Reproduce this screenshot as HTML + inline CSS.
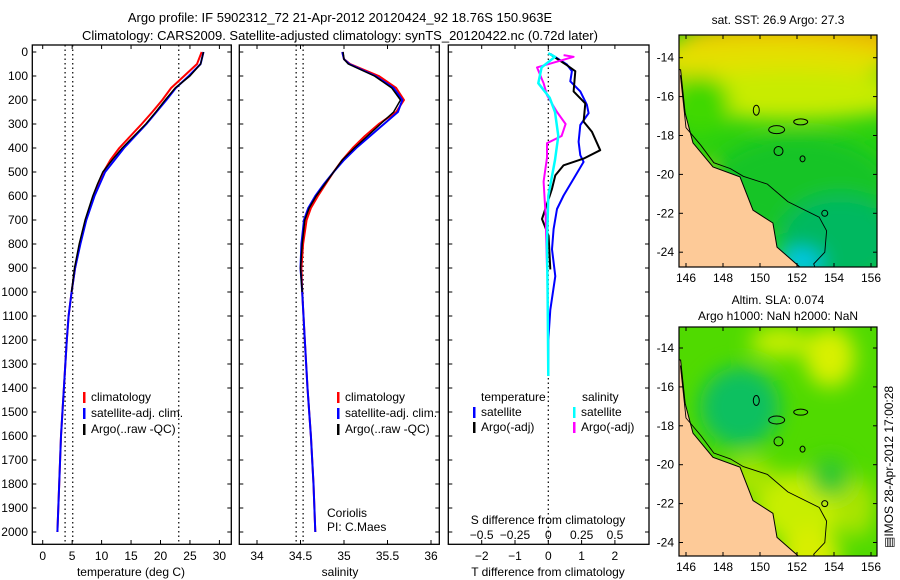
<!DOCTYPE html>
<html><head><meta charset="utf-8"><style>
html,body{margin:0;padding:0;background:#fff;}
svg{display:block;font-family:"Liberation Sans",sans-serif;}
</style></head><body>
<svg id="fig" width="900" height="580" viewBox="0 0 900 580" xmlns="http://www.w3.org/2000/svg">
<defs>
<filter id="bl" x="-50%" y="-50%" width="200%" height="200%"><feGaussianBlur stdDeviation="10"/></filter>
<clipPath id="c1"><rect x="679" y="35" width="198" height="232"/></clipPath>
<clipPath id="c2"><rect x="679" y="327" width="198" height="229"/></clipPath>
<clipPath id="cp1"><rect x="32.3" y="45" width="199" height="499.3"/></clipPath>
<clipPath id="cp2"><rect x="239.3" y="45" width="200" height="499.3"/></clipPath>
<clipPath id="cp3"><rect x="448.3" y="45" width="200.7" height="499.3"/></clipPath>
</defs>
<text x="340" y="22" font-size="13" text-anchor="middle">Argo profile: IF 5902312_72 21-Apr-2012 20120424_92 18.76S 150.963E</text>
<text x="340" y="40" font-size="13" text-anchor="middle">Climatology: CARS2009. Satellite-adjusted climatology: synTS_20120422.nc (0.72d later)</text>
<g id="axes"></g>
<g id="maps"></g>
</svg>
<script>
// ---- data ----
const depthT = [0,50,100,150,200,250,300,350,400,450,500,550,600,700,800,900,1000,1100,1200,1400,1600,1800,2000];
const tempArgo = [27.3,26.8,25.0,22.5,20.8,19.2,17.5,15.5,13.5,11.8,10.2,9.3,8.5,7.2,6.2,5.4,4.9];
const tempClim = [27.0,26.2,24.0,21.8,20.3,18.6,16.8,14.9,13.0,11.5,10.3,9.4,8.6,7.3,6.3,5.5,4.9,4.4,4.1,3.6,3.1,2.8,2.5];
const tempSat  = [27.3,26.8,24.8,22.6,21.0,19.3,17.6,15.7,13.8,12.2,10.6,9.7,8.8,7.4,6.4,5.5,4.9,4.4,4.1,3.6,3.1,2.8,2.5];
const depthS = [0,30,50,100,150,200,250,300,350,400,450,500,550,600,650,700,800,900,1000,1200,1400,1600,1800,2000];
const salArgo = [34.99,35.0,35.05,35.35,35.55,35.65,35.57,35.42,35.27,35.12,34.98,34.88,34.78,34.68,34.6,34.55,34.52,34.5,34.52];
const salClim = [34.98,35.0,35.07,35.4,35.6,35.69,35.6,35.4,35.24,35.1,34.98,34.88,34.79,34.7,34.62,34.57,34.53,34.51,34.52,34.55,34.58,34.62,34.65,34.67];
const salSat  = [34.98,35.0,35.06,35.36,35.57,35.67,35.62,35.46,35.3,35.14,35.0,34.88,34.77,34.67,34.59,34.54,34.51,34.5,34.52,34.55,34.58,34.62,34.65,34.67];
const depthDT = [8,52,80,122,164,220,255,304,374,430,458,528,598,654,738,822,934,1074,1200,1340];
const dTsat = [0.06,0.56,0.71,0.66,0.96,1.16,1.21,0.96,0.91,0.96,1.06,0.76,0.46,0.26,0.16,0.11,0.21,0.06,0.0,0.0];
const depthDTa = [10,55,80,164,214,290,332,409,444,472,514,570,696,766,906];
const dTargo = [0.06,0.56,0.81,0.76,1.11,1.06,1.31,1.56,1.06,0.46,0.21,0.11,-0.19,0.01,0.06];
const depthDS = [13,20,64,130,180,250,300,350,380,440,540,680,900];
const dSargo = [0.115,0.19,-0.085,-0.035,-0.01,0.065,0.13,0.1,-0.01,-0.01,-0.035,-0.02,-0.01];
const depthDSs = [5,20,64,130,190,250,350,450,600,800,1000,1350];
const dSsat = [0.0,0.05,-0.05,-0.075,0.01,0.05,0.075,0.05,0.0,-0.01,-0.005,0.0];
const depthTicks = [0,100,200,300,400,500,600,700,800,900,1000,1100,1200,1300,1400,1500,1600,1700,1800,1900,2000];
const tTicks = [0,5,10,15,20,25,30];
const sTicks = [34,34.5,35,35.5,36];
const dTTicks = [-2,-1,0,1,2];
const dSTicks = [-0.5,-0.25,0,0.25,0.5];
const dTLabels = ["\u22122","\u22121","0","1","2"];
const dSLabels = ["\u22120.5","\u22120.25","0","0.25","0.5"];

// ---- scales ----
const yD = d => 52 + d*0.24;
const xT = t => 42.7 + t*5.89;
const xS = s => 257 + (s-34)*87;
const xDT = v => 548.3 + v*33.3;
const xDS = v => 548.3 + v*133.3;
const NS = "http://www.w3.org/2000/svg";
const ax = document.getElementById('axes');
function mk(tag, attrs, parent){const e=document.createElementNS(NS,tag);for(const k in attrs)e.setAttribute(k,attrs[k]);(parent||ax).appendChild(e);return e;}

function panel(name,x0,x1){
  const g=mk('g',{});
  
  
  const r=mk('rect',{x:x0,y:45,width:x1-x0,height:499.3,fill:'none',stroke:'#000','stroke-width':1.3},g);
  
  
  depthTicks.forEach(d=>{
    mk('line',{x1:x0,x2:x0+4,y1:yD(d),y2:yD(d),stroke:'#000'},g);
    mk('line',{x1:x1-4,x2:x1,y1:yD(d),y2:yD(d),stroke:'#000'},g);
  });
  return g;
}
function line(g,xs,ds,fx,color,w,name,clip){
  const pts=xs.map((v,i)=>fx(v).toFixed(1)+','+yD(ds[i]).toFixed(1)).join(' ');
  const p=mk('polyline',{points:pts,fill:'none',stroke:color,'stroke-width':w,'clip-path':'url(#'+clip+')','stroke-linejoin':'round'},g);
  
  
}
function vdot(g,x){mk('line',{x1:x,x2:x,y1:45,y2:544,stroke:'#000','stroke-width':1.2,'stroke-dasharray':'1.5,3'},g);}
function txt(g,x,y,s,anchor,size){const t=mk('text',{x:x,y:y,'font-size':size||12,'text-anchor':anchor||'start'},g);t.textContent=s;return t;}
function legend(g,x,y,color,label,name){
  const b=mk('rect',{x:x,y:y-9,width:2.5,height:11,fill:color},g);
  
  
  const t=txt(g,x+8,y,label);
  
  
}

// panel 1
const p1=panel('temperature-panel',32.3,231.3);
[3.8,5.1,23.1].forEach(v=>vdot(p1,xT(v)));
depthTicks.forEach(d=>{const t=txt(p1,28,yD(d)+4,String(d),'end');});
tTicks.forEach(v=>{mk('line',{x1:xT(v),x2:xT(v),y1:544.3,y2:540,stroke:'#000'},p1);mk('line',{x1:xT(v),x2:xT(v),y1:45,y2:49,stroke:'#000'},p1);const t=txt(p1,xT(v),560,String(v),'middle');});
const xl1=txt(p1,131,576,'temperature (deg C)','middle');
line(p1,tempClim,depthT,xT,'#ff0000',2,'temperature-climatology-line','cp1');
line(p1,tempSat,depthT,xT,'#0000ff',2,'temperature-satellite-line','cp1');
line(p1,tempArgo,depthT.slice(0,tempArgo.length),xT,'#000',1.5,'temperature-argo-line','cp1');
legend(p1,83,401,'#ff0000','climatology','legend-climatology');
legend(p1,83,417,'#0000ff','satellite-adj. clim.','legend-satellite');
legend(p1,83,433,'#000','Argo(..raw -QC)','legend-argo');

// panel 2
const p2=panel('salinity-panel',239.3,439.3);
[34.45,34.53].forEach(v=>vdot(p2,xS(v)));
sTicks.forEach(v=>{mk('line',{x1:xS(v),x2:xS(v),y1:544.3,y2:540,stroke:'#000'},p2);mk('line',{x1:xS(v),x2:xS(v),y1:45,y2:49,stroke:'#000'},p2);const t=txt(p2,xS(v),560,String(v),'middle');});
const xl2=txt(p2,340,576,'salinity','middle');
line(p2,salClim,depthS,xS,'#ff0000',2,'salinity-climatology-line','cp2');
line(p2,salSat,depthS,xS,'#0000ff',2,'salinity-satellite-line','cp2');
line(p2,salArgo,depthS.slice(0,salArgo.length),xS,'#000',1.5,'salinity-argo-line','cp2');
legend(p2,337,401,'#ff0000','climatology','legend-climatology-2');
legend(p2,337,417,'#0000ff','satellite-adj. clim.','legend-satellite-2');
legend(p2,337,433,'#000','Argo(..raw -QC)','legend-argo-2');
const c1=txt(p2,327,517,'Coriolis');
const c2=txt(p2,327,531,'PI: C.Maes');

// panel 3
const p3=panel('difference-panel',448.3,649);
vdot(p3,548.3);
dTTicks.forEach((v,i)=>{mk('line',{x1:xDT(v),x2:xDT(v),y1:544.3,y2:540,stroke:'#000'},p3);mk('line',{x1:xDT(v),x2:xDT(v),y1:45,y2:49,stroke:'#000'},p3);const t=txt(p3,xDT(v),560,dTLabels[i],'middle');});
dSTicks.forEach((v,i)=>{const t=txt(p3,xDS(v),539,dSLabels[i],'middle');});
const xl3=txt(p3,548,576,'T difference from climatology','middle');
const xl4=txt(p3,548,524,'S difference from climatology','middle');
line(p3,dTsat,depthDT,xDT,'#0000ff',2,'t-diff-satellite-line','cp3');
line(p3,dTargo,depthDTa,xDT,'#000',2,'t-diff-argo-line','cp3');
line(p3,dSargo,depthDS,xDS,'#ff00ff',2,'s-diff-argo-line','cp3');
line(p3,dSsat,depthDSs,xDS,'#00ffff',2.5,'s-diff-satellite-line','cp3');
const lt=txt(p3,481,401,'temperature');
const ls=txt(p3,582,401,'salinity');
legend(p3,473,416,'#0000ff','satellite','legend-t-satellite');
legend(p3,473,431,'#000','Argo(-adj)','legend-t-argo');
legend(p3,573,416,'#00ffff','satellite','legend-s-satellite');
legend(p3,573,431,'#ff00ff','Argo(-adj)','legend-s-argo');

// ---- maps ----
const mp=document.getElementById('maps');
const lonX = lon => 686 + (lon-146)*18.5;
const coast = [[145.6,14.6],[145.71,14.62],[145.95,16.84],[146.38,18.38],[147.46,19.62],[148.92,20.13],[149.62,21.84],[150.7,22.5],[150.92,23.74],[152.16,24.77],[152.3,25.2],[145.6,25.2]];
const iso = [[145.7,14.9],[146.0,17.6],[146.8,18.5],[147.5,19.4],[148.4,19.7],[149.1,20.1],[150.4,20.5],[151.5,21.4],[153.2,22.2],[153.6,22.9],[153.5,24.0],[152.9,24.6],[153.1,25.1]];
function drawMap(name,top,bottom,lat14,clip,blobs){
  const g=mk('g',{},mp);
  
  
  const latY = lat => lat14 + (lat-14)*19.45;
  const inner=mk('g',{'clip-path':'url(#'+clip+')'},g);
  mk('rect',{x:679,y:top,width:198,height:bottom-top,fill:blobs.base},inner);
  const bg=mk('g',{filter:'url(#bl)'},inner);
  blobs.list.forEach(b=>mk('ellipse',{cx:b[0],cy:b[1]+top,rx:b[2],ry:b[3],fill:b[4]},bg));
  const land=mk('polygon',{points:coast.map(p=>lonX(p[0]).toFixed(1)+','+latY(p[1]).toFixed(1)).join(' '),fill:'#fdca98',stroke:'#000','stroke-width':1},inner);
  
  
  mk('polyline',{points:iso.map(p=>lonX(p[0]).toFixed(1)+','+latY(p[1]).toFixed(1)).join(' '),fill:'none',stroke:'#000','stroke-width':0.9},inner);
  [[151,18.8,4.5,4.5],[152.3,19.2,2.5,3],[150.9,17.7,8,4],[152.2,17.3,7,3],[149.8,16.7,3,5],[153.5,22,3,3]].forEach(r=>mk('ellipse',{cx:lonX(r[0]),cy:latY(r[1]),rx:r[2],ry:r[3],fill:'none',stroke:'#000','stroke-width':1},inner));
  mk('rect',{x:679,y:top,width:198,height:bottom-top,fill:'none',stroke:'#000','stroke-width':1.2},g);
  [146,148,150,152,154,156].forEach(l=>{mk('line',{x1:lonX(l),x2:lonX(l),y1:bottom,y2:bottom-4,stroke:'#000'},g);mk('line',{x1:lonX(l),x2:lonX(l),y1:top,y2:top+4,stroke:'#000'},g);const t=txt(g,lonX(l),bottom+15,String(l),'middle');});
  [14,16,18,20,22,24].forEach(l=>{mk('line',{x1:679,x2:683,y1:latY(l),y2:latY(l),stroke:'#000'},g);mk('line',{x1:873,x2:877,y1:latY(l),y2:latY(l),stroke:'#000'},g);const t=txt(g,674,latY(l)+4,'-'+l,'end');});
  return g;
}
const m1=drawMap('sst-map',35,267,57.7,'c1',{base:'#28d010',list:[[800,5,120,22,'#f0b400'],[760,25,140,22,'#e4e000'],[790,60,130,25,'#c8ec00'],[700,70,30,30,'#40d800'],[800,150,90,50,'#14c428'],[840,205,60,45,'#00b860'],[800,228,22,14,'#00c8f0'],[700,140,8,14,'#e8e000']]});
const t1=txt(m1,778,24,'sat. SST: 26.9 Argo: 27.3','middle');
const m2=drawMap('sla-map',327,556,348,'c2',{base:'#50da00',list:[[740,80,40,40,'#10c060'],[830,30,25,30,'#d8f000'],[780,15,30,15,'#c8ee00'],[800,180,45,35,'#c8ee00'],[810,230,30,30,'#d8ee00'],[750,150,25,20,'#a8e400'],[855,180,20,30,'#a8e400'],[830,150,20,20,'#30c830']]});
const t2=txt(m2,778,304,'Altim. SLA: 0.074','middle');
const t3=txt(m2,778,320,'Argo h1000: NaN h2000: NaN','middle');
const im=mk('text',{x:0,y:0,'font-size':12,'text-anchor':'start',transform:'translate(893,548) rotate(-90)'},mp);
im.textContent='\u25A4IMOS 28-Apr-2012 17:00:28';


</script>
</body></html>
